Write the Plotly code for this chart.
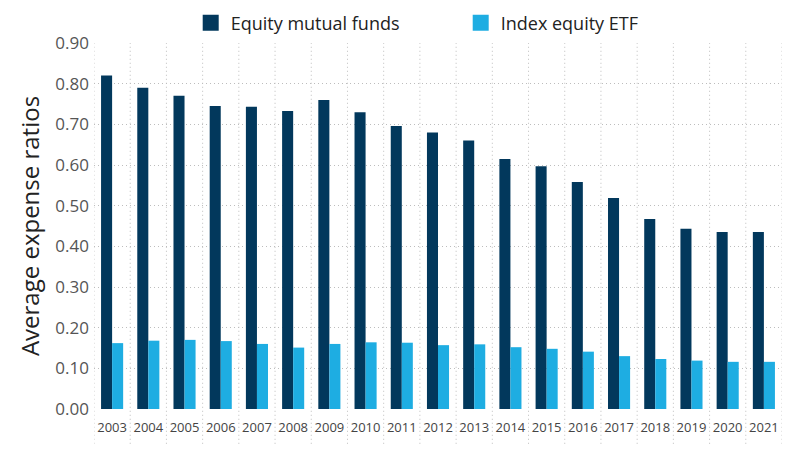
import plotly.graph_objects as go

# Data
years = list(range(2003, 2022))
equity_mutual_funds = [0.82, 0.79, 0.77, 0.745, 0.743, 0.733, 0.76, 0.73, 0.696,
                       0.68, 0.66, 0.615, 0.597, 0.558, 0.519, 0.467, 0.443, 0.435, 0.435]
index_equity_etf = [0.162, 0.168, 0.17, 0.167, 0.16, 0.151, 0.16, 0.164, 0.163,
                    0.157, 0.159, 0.152, 0.148, 0.141, 0.13, 0.123, 0.119, 0.116, 0.116]
y_ticks = [i / 10 for i in range(10)]

DARK = "#02385c"
LIGHT = "#1eade2"
GRID = "#bdbdbd"
DOTS = "1px,3px"

fig = go.Figure()
fig.add_trace(go.Bar(x=years, y=equity_mutual_funds, name="Equity mutual funds",
                     marker=dict(color=DARK, line=dict(width=0)), showlegend=False))
fig.add_trace(go.Bar(x=years, y=index_equity_etf, name="Index equity ETF",
                     marker=dict(color=LIGHT, line=dict(width=0)), showlegend=False))

# legend entries with bigger square swatches
for name, color in [("Equity mutual funds", DARK), ("Index equity ETF", LIGHT)]:
    fig.add_trace(go.Scatter(x=[None], y=[None], mode="markers", name=name,
                             marker=dict(symbol="square", size=16, color=color)))

# dotted separators between years, running down past the tick labels
for i in range(len(years) + 1):
    fig.add_shape(type="line", xref="x", yref="paper",
                  x0=years[0] - 0.5 + i, x1=years[0] - 0.5 + i, y0=-0.095, y1=1,
                  line=dict(color=GRID, width=1, dash=DOTS), layer="below")

fig.update_layout(
    width=800, height=450,
    margin=dict(l=86, r=26, t=35, b=49, autoexpand=False),
    plot_bgcolor="white", paper_bgcolor="white",
    font=dict(family="Open Sans, sans-serif", color="#444"),
    barmode="group", bargap=0.39, bargroupgap=0,
    showlegend=True,
    legend=dict(orientation="h", x=0.533, xanchor="center", y=1.004, yanchor="bottom",
                font=dict(size=18, color="#222"), itemwidth=30, itemsizing="trace",
                traceorder="normal", entrywidth=225),
    xaxis=dict(range=[years[0] - 0.5, years[-1] + 0.5], tickmode="array",
               tickvals=years, ticktext=[str(y) for y in years],
               showgrid=False, zeroline=False, showline=False, ticks="",
               automargin=False, ticklabelstandoff=9,
               tickfont=dict(size=13, color="#444")),
    yaxis=dict(range=[0, 0.9], tickmode="array", tickvals=y_ticks + [0.9],
               ticktext=[f"{v:.2f}" for v in y_ticks + [0.9]],
               showgrid=True, gridcolor=GRID, griddash=DOTS, gridwidth=1,
               zeroline=False, showline=False, ticks="", automargin=False,
               ticklabelstandoff=4,
               tickfont=dict(size=17, color="#555"),
               title=dict(text="Average expense ratios", font=dict(size=24, color="#222"),
                          standoff=8)),
)

fig.write_html("out.html")
